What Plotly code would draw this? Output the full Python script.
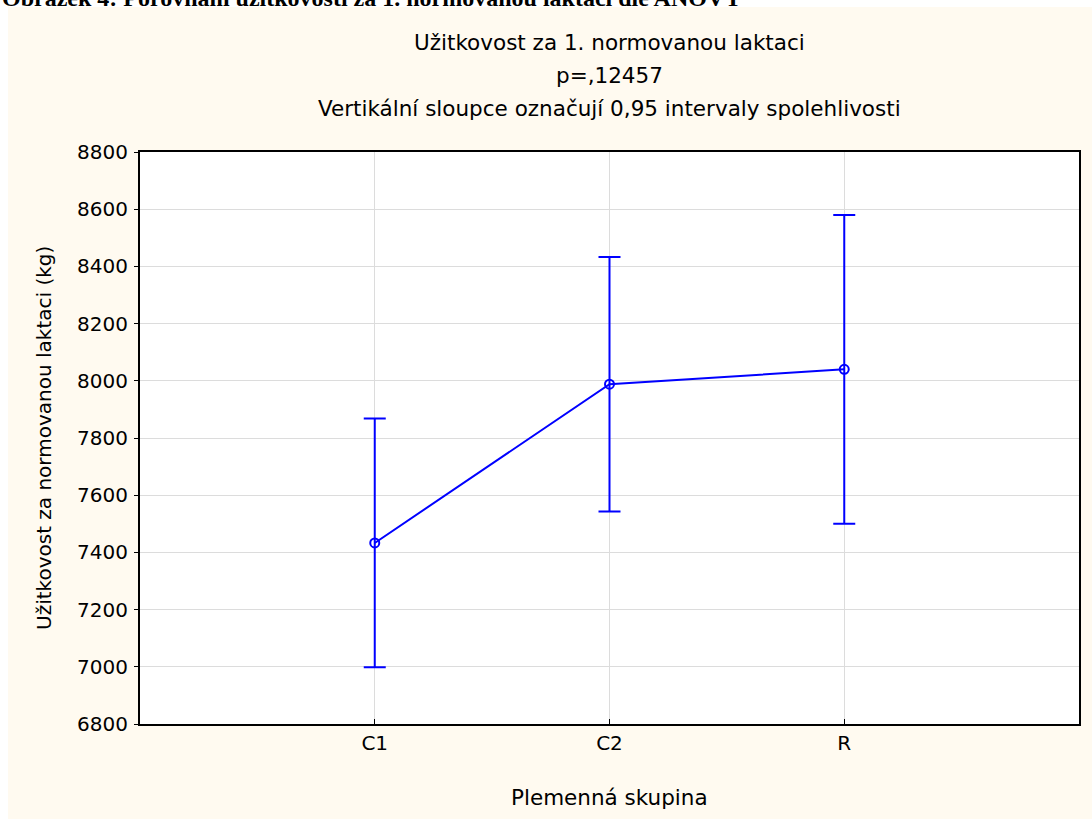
import plotly.graph_objects as go

# Mean yield for the first standardised lactation by breed group, with 95% CI half-widths
groups = ["C1", "C2", "R"]
means = [7433, 7988, 8040]
ci_half = [435, 445, 540]

y_ticks = [6800, 7000, 7200, 7400, 7600, 7800, 8000, 8200, 8400, 8600, 8800]

BLUE = "#0000FF"
CREAM = "#FFFAF0"
FONT = "DejaVu Sans, Verdana, sans-serif"
FS = 20
FS_HEAD = 21.5

# plot-area geometry in pixels, used to place the header lines
PLOT_TOP, PLOT_BOTTOM, PLOT_LEFT, PLOT_RIGHT = 152, 724, 140, 1079
PH = PLOT_BOTTOM - PLOT_TOP
PW = PLOT_RIGHT - PLOT_LEFT


def py(pix):
    return (PLOT_BOTTOM - pix) / PH


def px(pix):
    return (pix - PLOT_LEFT) / PW


fig = go.Figure()
fig.add_trace(go.Scatter(
    x=groups, y=means,
    mode="lines+markers",
    line=dict(color=BLUE, width=2),
    marker=dict(symbol="circle-open", size=9, color=BLUE, line=dict(color=BLUE, width=2)),
    error_y=dict(type="data", array=ci_half, visible=True, color=BLUE, thickness=2, width=11),
    showlegend=False,
    hoverinfo="x+y",
))

fig.update_layout(
    width=1092, height=819,
    margin=dict(l=PLOT_LEFT, r=1092 - PLOT_RIGHT, t=PLOT_TOP, b=819 - PLOT_BOTTOM),
    paper_bgcolor=CREAM,
    plot_bgcolor="white",
    font=dict(family=FONT, size=FS, color="black"),
    xaxis=dict(
        type="category", range=[-1, 3],
        showgrid=True, gridcolor="#DCDCDC", gridwidth=1,
        showline=True, linecolor="black", linewidth=2, mirror=True,
        ticks="inside", ticklen=5, tickcolor="black", tickwidth=1,
        tickfont=dict(size=FS),
        zeroline=False,
    ),
    yaxis=dict(
        range=[6800, 8800], tickvals=y_ticks,
        showgrid=True, gridcolor="#DCDCDC", gridwidth=1,
        showline=True, linecolor="black", linewidth=2, mirror=True,
        ticks="outside", ticklen=4, tickcolor="black", tickwidth=1,
        tickfont=dict(size=FS), ticklabelstandoff=2,
        zeroline=False,
    ),
    yaxis2=dict(
        overlaying="y", side="right", range=[6800, 8800], tickvals=y_ticks,
        showgrid=False, showticklabels=False, showline=False,
        ticks="inside", ticklen=4, tickcolor="black", zeroline=False,
    ),
    shapes=[
        # white page margins around the cream chart panel
        dict(type="rect", xref="paper", yref="paper", layer="above",
             x0=-0.2, x1=px(8), y0=-0.2, y1=1.3,
             fillcolor="white", line=dict(width=0)),
        dict(type="rect", xref="paper", yref="paper", layer="above",
             x0=-0.2, x1=1.1, y0=py(7), y1=1.3,
             fillcolor="white", line=dict(width=0)),
    ],
    annotations=[
        dict(text="<b>Obrázek 4: Porovnání užitkovosti za 1. normovanou laktaci dle ANOVY</b>",
             xref="paper", yref="paper", x=px(0), y=py(13),
             xanchor="left", yanchor="bottom", showarrow=False,
             font=dict(family="Liberation Serif, Times New Roman, serif", size=24, color="black")),
        dict(text="Užitkovost za 1. normovanou laktaci",
             xref="paper", yref="paper", x=0.5, y=py(42),
             xanchor="center", yanchor="middle", showarrow=False, font=dict(size=FS_HEAD)),
        dict(text="p=,12457",
             xref="paper", yref="paper", x=0.5, y=py(75),
             xanchor="center", yanchor="middle", showarrow=False, font=dict(size=FS_HEAD)),
        dict(text="Vertikální sloupce označují 0,95 intervaly spolehlivosti",
             xref="paper", yref="paper", x=0.5, y=py(108),
             xanchor="center", yanchor="middle", showarrow=False, font=dict(size=FS_HEAD)),
        dict(text="Plemenná skupina",
             xref="paper", yref="paper", x=0.5, y=py(797),
             xanchor="center", yanchor="middle", showarrow=False, font=dict(size=FS_HEAD)),
        dict(text="Užitkovost za normovanou laktaci (kg)",
             xref="paper", yref="paper", x=px(44), y=0.5, textangle=-90,
             xanchor="center", yanchor="middle", showarrow=False, font=dict(size=FS)),
    ],
)

fig.write_html("out.html")
